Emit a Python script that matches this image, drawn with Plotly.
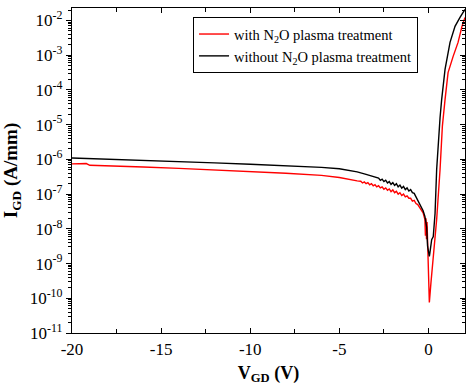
import plotly.graph_objects as go

# V_GD (V) and I_GD (A/mm) — without N2O plasma treatment (black)
v_without = [-20, -18, -16, -14, -12, -10, -8, -6, -5, -4, -3.5, -3.0,
             -2.8, -2.7, -2.6, -2.5, -2.4, -2.3, -2.2, -2.1, -2.0, -1.9, -1.8,
             -1.7, -1.6, -1.5, -1.4, -1.3, -1.2, -1.1, -1.0, -0.9, -0.8, -0.7,
             -0.6, -0.5, -0.4, -0.3, -0.2, -0.1, -0.05, 0.05, 0.08, 0.18, 0.27,
             0.37, 0.46, 0.55, 0.65, 0.74, 0.93, 1.21, 1.49, 1.77, 2.05]
i_without = [1.10e-6, 1.02e-6, 9.55e-7, 8.71e-7, 7.94e-7, 7.24e-7, 6.61e-7, 5.89e-7,
             5.37e-7, 4.37e-7, 3.72e-7, 3.02e-7,
             2.88e-7, 2.51e-7, 2.69e-7, 2.29e-7, 2.51e-7, 2.09e-7, 2.29e-7, 1.91e-7,
             2.14e-7, 1.78e-7, 2.00e-7, 1.62e-7, 1.82e-7, 1.48e-7, 1.66e-7, 1.35e-7,
             1.51e-7, 1.23e-7, 1.35e-7, 1.10e-7, 1.05e-7, 8.32e-8, 6.61e-8, 5.25e-8,
             4.17e-8, 3.31e-8, 2.29e-8, 1.12e-8, 3.16e-9, 1.62e-9, 2.04e-9, 4.90e-9,
             6.03e-9, 2.82e-8, 5.13e-7, 3.98e-6, 1.58e-5, 5.25e-5, 3.89e-4, 2.34e-3,
             6.76e-3, 1.23e-2, 2.09e-2]

# with N2O plasma treatment (red)
v_with = [-20, -19.2, -19.0, -18, -16, -14, -12, -10, -8, -6, -5, -4,
          -3.8, -3.7, -3.6, -3.5, -3.4, -3.3, -3.2, -3.1, -3.0, -2.9, -2.8,
          -2.7, -2.6, -2.5, -2.4, -2.3, -2.2, -2.1, -2.0, -1.9, -1.8, -1.7,
          -1.6, -1.5, -1.4, -1.3, -1.2, -1.1, -1.0, -0.9, -0.8, -0.7, -0.6,
          -0.5, -0.4, -0.3, -0.2, -0.17, -0.14, -0.11, -0.08, -0.05, 0.05,
          0.14, 0.27, 0.46, 0.65, 0.78, 0.93, 1.1, 1.38, 1.66, 1.88, 2.05]
i_with = [7.41e-7, 7.59e-7, 6.76e-7, 6.61e-7, 6.03e-7, 5.50e-7, 5.01e-7, 4.47e-7,
          3.98e-7, 3.47e-7, 3.02e-7, 2.40e-7,
          2.34e-7, 2.09e-7, 2.24e-7, 2.00e-7, 2.14e-7, 1.86e-7, 2.00e-7, 1.74e-7,
          1.86e-7, 1.62e-7, 1.74e-7, 1.51e-7, 1.62e-7, 1.38e-7, 1.51e-7, 1.29e-7,
          1.41e-7, 1.17e-7, 1.32e-7, 1.10e-7, 1.20e-7, 1.00e-7, 1.10e-7, 9.12e-8,
          1.00e-7, 8.32e-8, 8.91e-8, 7.59e-8, 7.59e-8, 6.31e-8, 6.61e-8, 5.37e-8,
          5.01e-8, 4.17e-8, 3.55e-8, 2.88e-8, 1.86e-8, 6.31e-9, 2.00e-8, 5.01e-9,
          1.58e-8, 5.01e-9, 7.59e-11, 2.82e-10, 1.29e-9, 1.86e-8, 5.13e-7, 8.91e-6,
          5.25e-5, 3.16e-4, 9.12e-4, 2.34e-3, 6.76e-3, 1.23e-2]

x_tickvals = [-20, -15, -10, -5, 0]
x_ticktext = ["-20", "-15", "-10", "-5", "0"]
x_minor = [-17.5, -12.5, -7.5, -2.5]
y_exponents = [-11, -10, -9, -8, -7, -6, -5, -4, -3, -2]

FONT = "Liberation Serif"
XR = [-20, 2.05]
YR = [-11, -1.64]

ytickvals = [10.0 ** e for e in y_exponents]
yticktext = [f"10<sup>{e}</sup>" for e in y_exponents]
yminor = [m * 10.0 ** e for e in y_exponents for m in range(2, 10)]

fig = go.Figure()
fig.add_trace(go.Scatter(x=v_with, y=i_with, mode="lines",
                         line=dict(color="#ff0000", width=1.4),
                         name="with N<sub>2</sub>O plasma treatment"))
fig.add_trace(go.Scatter(x=v_without, y=i_without, mode="lines",
                         line=dict(color="#000000", width=1.4),
                         name="without N<sub>2</sub>O plasma treatment"))
# helper traces so the extra tick axes are drawn
for xa, ya in [("x2", "y2"), ("x3", "y3"), ("x4", "y4")]:
    fig.add_trace(go.Scatter(x=[None], y=[None], xaxis=xa, yaxis=ya,
                             showlegend=False, hoverinfo="skip"))

base = dict(showgrid=False, zeroline=False, automargin=False,
            tickwidth=1, tickcolor="black", fixedrange=True)
xbase = dict(base, range=XR)
ybase = dict(base, type="log", range=YR)

fig.update_layout(
    width=473, height=388,
    margin=dict(l=72, r=8, t=8, b=55),
    paper_bgcolor="white", plot_bgcolor="white",
    font=dict(family=FONT, color="black", size=17),
    showlegend=True,
    legend=dict(x=0.308, y=0.972, xanchor="left", yanchor="top",
                bgcolor="white", bordercolor="black", borderwidth=1,
                font=dict(family=FONT, size=14.5, color="black"),
                tracegroupgap=0, itemwidth=30),
    # bottom axis, major ticks + labels
    xaxis=dict(xbase, tickvals=x_tickvals, ticktext=x_ticktext,
               ticks="inside", ticklen=5,
               showline=True, linecolor="black", linewidth=1.2,
               tickfont=dict(family=FONT, size=17),
               title=dict(text="<b>V<sub>GD</sub> (V)</b>", standoff=8,
                          font=dict(family=FONT, size=18))),
    # top axis, major ticks
    xaxis2=dict(xbase, overlaying="x", side="top", anchor="y2",
                tickvals=x_tickvals, showticklabels=False,
                ticks="inside", ticklen=5,
                showline=True, linecolor="black", linewidth=1.2),
    # bottom minor ticks
    xaxis3=dict(xbase, overlaying="x", side="bottom", anchor="y3",
                tickvals=x_minor, showticklabels=False,
                ticks="inside", ticklen=4, showline=False),
    # top minor ticks
    xaxis4=dict(xbase, overlaying="x", side="top", anchor="y4",
                tickvals=x_minor, showticklabels=False,
                ticks="inside", ticklen=4, showline=False),
    # left axis, major ticks + labels
    yaxis=dict(ybase, tickvals=ytickvals, ticktext=yticktext,
               ticks="outside", ticklen=5,
               showline=True, linecolor="black", linewidth=1.2,
               tickfont=dict(family=FONT, size=17),
               title=dict(text="<b>I<sub>GD</sub> (A/mm)</b>", standoff=6,
                          font=dict(family=FONT, size=19))),
    # right axis, major ticks
    yaxis2=dict(ybase, overlaying="y", side="right", anchor="x2",
                tickvals=ytickvals, showticklabels=False,
                ticks="inside", ticklen=5,
                showline=True, linecolor="black", linewidth=1.2),
    # left minor ticks
    yaxis3=dict(ybase, overlaying="y", side="left", anchor="x3",
                tickvals=yminor, showticklabels=False,
                ticks="outside", ticklen=3, showline=False),
    # right minor ticks
    yaxis4=dict(ybase, overlaying="y", side="right", anchor="x4",
                tickvals=yminor, showticklabels=False,
                ticks="inside", ticklen=3, showline=False),
)

fig.write_html("out.html", config={"displayModeBar": False},
               post_script="document.body.style.margin='0';document.body.style.padding='0';")
